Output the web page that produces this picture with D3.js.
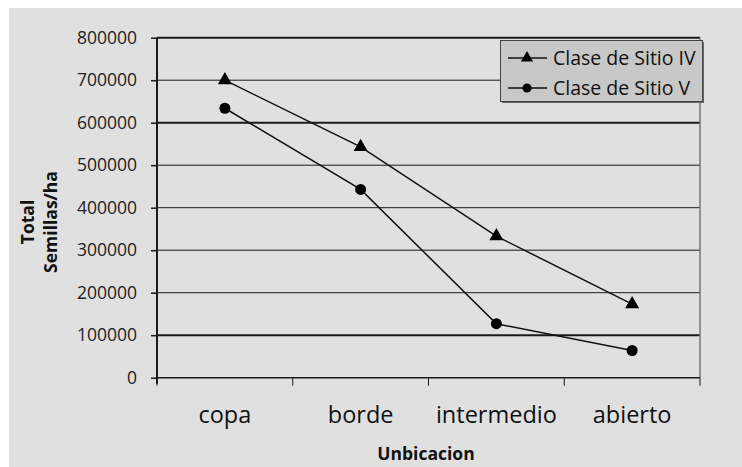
<!DOCTYPE html>
<html><head><meta charset="utf-8">
<script src="https://cdn.jsdelivr.net/npm/d3@7"></script>
<style>body{margin:0;background:#fff}svg{display:block}</style>
</head><body>
<svg id="c" width="742" height="467"></svg>
<script>
const categories = ["copa", "borde", "intermedio", "abierto"];
const seriesNames = ["Clase de Sitio IV", "Clase de Sitio V"];
const sitioIV = [700000, 543000, 333000, 173000];
const sitioV = [634000, 443000, 127000, 64000];
const yTicks = [0, 100000, 200000, 300000, 400000, 500000, 600000, 700000, 800000];
const thickGrid = [100000, 600000];

const svg = d3.select("#c");
const font = "'Open Sans', 'DejaVu Sans', sans-serif";
svg.append("rect").attr("x", 9).attr("y", 8).attr("width", 733).attr("height", 459).attr("fill", "#e0e0e0");

const L = 157, R = 700, T = 37.7, B = 377.7;
const x = d3.scaleBand().domain(categories).range([L, R]);
const y = d3.scaleLinear().domain([0, 800000]).range([B, T]);

// gridlines
svg.append("g").selectAll("line").data(yTicks.filter(d => d > 0)).join("line")
  .attr("x1", L).attr("x2", R)
  .attr("y1", d => y(d)).attr("y2", d => y(d))
  .attr("stroke", "#1a1a1a")
  .attr("stroke-width", d => thickGrid.includes(d) || d === 800000 ? 2 : 1);
// right border
svg.append("line").attr("x1", R).attr("x2", R).attr("y1", T).attr("y2", B)
  .attr("stroke", "#777").attr("stroke-width", 1.5);

// y axis
const ya = svg.append("g").attr("transform", `translate(${L},0)`)
  .call(d3.axisLeft(y).tickValues(yTicks).tickFormat(d3.format("d")).tickSize(6).tickPadding(14));
ya.select(".domain").attr("stroke", "#1a1a1a").attr("stroke-width", 2).attr("d", `M0,${T}V${B + 6}`);
ya.selectAll(".tick line").attr("stroke", "#1a1a1a").attr("stroke-width", 1.5);
ya.selectAll("text").attr("font-family", font).attr("font-size", 17.5).attr("fill", "#222");

// x axis
const xa = svg.append("g").attr("transform", `translate(0,${B})`);
xa.append("line").attr("x1", L).attr("x2", R).attr("y1", 0).attr("y2", 0).attr("stroke", "#1a1a1a").attr("stroke-width", 1.5);
const bounds = categories.map(c => x(c)).concat([R]);
xa.selectAll("line.t").data(bounds).join("line").attr("class", "t")
  .attr("x1", d => d).attr("x2", d => d).attr("y1", 0).attr("y2", 8)
  .attr("stroke", "#1a1a1a").attr("stroke-width", 1);
xa.selectAll("text").data(categories).join("text")
  .attr("x", d => x(d) + x.bandwidth() / 2).attr("y", 45)
  .attr("text-anchor", "middle").attr("font-family", font).attr("font-size", 23.5).attr("fill", "#111")
  .text(d => d);

// axis titles
svg.append("text").attr("x", 426).attr("y", 460).attr("text-anchor", "middle")
  .attr("font-family", font).attr("font-size", 17.5).attr("font-weight", "bold").attr("fill", "#111").text("Unbicacion");
const yt = svg.append("g").attr("transform", "translate(40,222) rotate(-90)");
yt.append("text").attr("x", 0).attr("y", -6.5).attr("text-anchor", "middle")
  .attr("font-family", font).attr("font-size", 17.5).attr("font-weight", "bold").attr("fill", "#111").text("Total");
yt.append("text").attr("x", 0).attr("y", 16.5).attr("text-anchor", "middle")
  .attr("font-family", font).attr("font-size", 17.5).attr("font-weight", "bold").attr("fill", "#111").text("Semillas/ha");

// series
const cx = c => x(c) + x.bandwidth() / 2;
const line = d3.line().x((d, i) => cx(categories[i])).y(d => y(d));
const series = [{name: seriesNames[0], values: sitioIV, sym: d3.symbolTriangle, size: 85},
                {name: seriesNames[1], values: sitioV, sym: d3.symbolCircle, size: 95}];
series.forEach(s => {
  svg.append("path").attr("d", line(s.values)).attr("fill", "none").attr("stroke", "#111").attr("stroke-width", 1.5);
  svg.append("g").selectAll("path").data(s.values).join("path")
    .attr("transform", (d, i) => `translate(${cx(categories[i])},${y(d)})`)
    .attr("d", d3.symbol().type(s.sym).size(s.size)).attr("fill", "#000");
});

// legend
const lg = svg.append("g");
lg.append("rect").attr("x", 502).attr("y", 42).attr("width", 202).attr("height", 61).attr("fill", "#666");
lg.append("rect").attr("x", 500.5).attr("y", 40.5).attr("width", 202).attr("height", 61)
  .attr("fill", "#c8c8c8").attr("stroke", "#444").attr("stroke-width", 1);
series.forEach((s, i) => {
  const yy = 58 + i * 30;
  lg.append("line").attr("x1", 508).attr("x2", 547).attr("y1", yy).attr("y2", yy).attr("stroke", "#111").attr("stroke-width", 1.5);
  lg.append("path").attr("transform", `translate(527,${yy})`).attr("d", d3.symbol().type(s.sym).size(65)).attr("fill", "#000");
  lg.append("text").attr("x", 553).attr("y", yy + 7).attr("font-family", font).attr("font-size", 19.5).attr("fill", "#111").text(s.name);
});
</script>
</body></html>
